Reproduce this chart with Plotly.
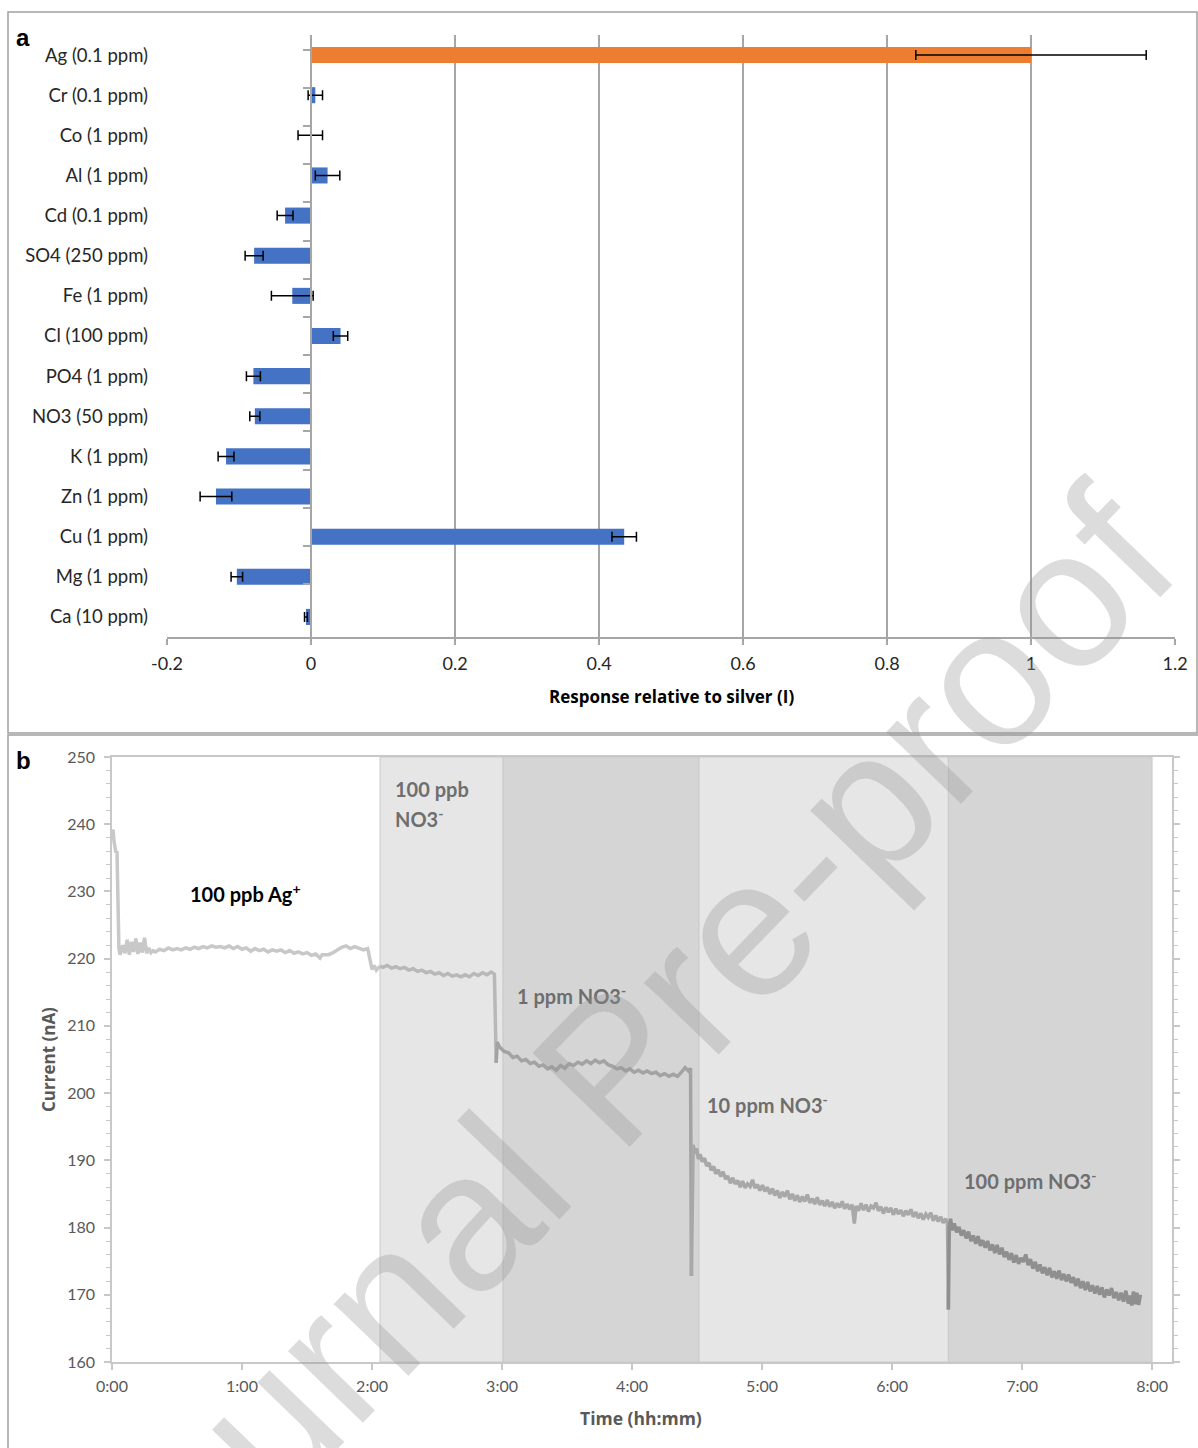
import plotly.graph_objects as go

# ---------------- Panel a data ----------------
categories = ["Ag (0.1 ppm)", "Cr (0.1 ppm)", "Co (1 ppm)", "Al (1 ppm)", "Cd (0.1 ppm)",
              "SO4 (250 ppm)", "Fe (1 ppm)", "Cl (100 ppm)", "PO4 (1 ppm)", "NO3 (50 ppm)",
              "K (1 ppm)", "Zn (1 ppm)", "Cu (1 ppm)", "Mg (1 ppm)", "Ca (10 ppm)"]
response = [1.0, 0.006, -0.001, 0.023, -0.036, -0.079, -0.026, 0.041, -0.080, -0.078,
            -0.118, -0.132, 0.435, -0.103, -0.007]
response_err = [0.16, 0.010, 0.017, 0.017, 0.011, 0.0125, 0.029, 0.010, 0.0097, 0.007,
                0.011, 0.022, 0.017, 0.008, 0.002]
x_ticks_a = [-0.2, 0, 0.2, 0.4, 0.6, 0.8, 1, 1.2]
x_ticktext_a = ["-0.2", "0", "0.2", "0.4", "0.6", "0.8", "1", "1.2"]

# ---------------- Panel b data (time in minutes, current in nA) ----------------
t_ag = [0, 0.5, 0.9, 1.4, 1.8, 2.3, 2.8, 3.2, 3.7, 5, 6, 7, 8, 9, 10, 11, 12, 13, 14, 15, 16, 17, 18,
        19, 20, 22, 24, 26, 28, 30, 32, 34, 36, 38, 40, 42, 44, 46, 48, 50, 52, 54, 56, 58, 60,
        62, 64, 66, 68, 70, 72, 74, 76, 78, 80, 82, 84, 86, 88, 90, 92, 94, 96, 97, 99, 100,
        102, 104, 106, 108, 110, 112, 114, 116, 118, 119, 120, 121, 122, 123.7]
i_ag = [238.5, 239.2, 237.5, 236.5, 235.8, 236.0, 228.0, 221.5, 220.6, 222.0, 220.8, 222.8,
        220.6, 222.5, 221.0, 223.0, 220.7, 222.4, 220.9, 223.1, 220.8, 221.6, 220.9, 221.2,
        221.0, 221.4, 221.2, 221.6, 221.3, 221.5, 221.3, 221.6, 221.4, 221.7, 221.5, 221.8,
        221.6, 221.9, 221.7, 221.8, 221.6, 221.9, 221.5, 221.8, 221.4, 221.6, 221.1, 221.5,
        221.2, 221.4, 221.0, 221.3, 221.1, 221.3, 220.9, 221.2, 220.8, 221.0, 220.7, 220.9,
        220.5, 220.7, 220.1, 220.6, 220.6, 220.6, 220.9, 221.3, 221.7, 221.9, 221.5, 221.8,
        221.6, 221.3, 221.5, 220.0, 218.4, 219.0, 218.3, 218.9]

t_100ppb = [123.7, 125, 127, 129, 131, 133, 135, 137, 139, 141, 143, 145, 147, 149, 151, 153,
            155, 157, 159, 161, 163, 165, 167, 169, 171, 173, 175, 176.5, 177.3]
i_100ppb = [218.9, 218.7, 219.0, 218.6, 218.8, 218.5, 218.7, 218.3, 218.5, 218.1, 218.3, 217.9,
            218.1, 217.7, 217.9, 217.5, 217.8, 217.4, 217.6, 217.3, 217.6, 217.3, 217.8, 217.5,
            217.9, 217.6, 218.0, 217.7, 204.5]

t_1ppm = [177.3, 177.8, 179, 181, 183, 185, 187, 189, 191, 193, 195, 197, 199, 201, 203, 205,
          207, 209, 211, 213, 215, 217, 219, 221, 223, 225, 227, 229, 231, 233, 235, 237, 239,
          241, 243, 245, 247, 249, 251, 253, 255, 257, 259, 261, 263, 264.5, 266, 267, 267.4]
i_1ppm = [204.5, 207.6, 206.8, 206.2, 206.0, 205.3, 205.5, 204.8, 205.0, 204.4, 204.6, 204.0,
          204.2, 203.6, 203.9, 203.4, 204.1, 203.7, 204.4, 204.1, 204.6, 204.3, 204.8, 204.4,
          204.9, 204.5, 204.8, 204.2, 204.0, 203.6, 203.8, 203.3, 203.6, 203.1, 203.4, 203.0,
          203.3, 202.9, 203.1, 202.6, 202.9, 202.5, 202.8, 202.5, 203.2, 203.8, 203.3, 203.7,
          172.8]

t_10ppm = [267.4, 267.8, 268.2, 269.0, 269.8, 270.6, 271.5, 272.3, 273.5, 274.4, 275.6, 276.5,
           277.7, 278.6, 279.8, 280.9, 282.0, 283.2, 284.1, 285.4, 286.5, 287.6, 288.8, 289.9,
           291.0, 292.2, 293.3, 294.5, 295.6, 296.7, 297.9, 299.0, 300.2, 301.3, 302.5, 303.6,
           304.8, 305.9, 307.1, 308.2, 309.4, 310.5, 311.7, 312.8, 314.0, 315.1, 316.3, 317.4,
           318.6, 319.7, 320.9, 322.0, 323.2, 324.3, 325.5, 326.6, 327.8, 328.9, 330.1, 331.2,
           332.4, 333.5, 334.7, 335.8, 337.0, 338.1, 339.3, 340.4, 341.6, 342.6, 343.4, 344.5,
           345.7, 346.8, 348.0, 349.1, 350.3, 351.4, 352.6, 353.7, 354.9, 356.0, 357.2, 358.3,
           359.5, 360.6, 361.8, 362.9, 364.1, 365.2, 366.4, 367.5, 368.7, 369.8, 371.0, 372.1,
           373.3, 374.4, 375.6, 376.7, 377.9, 379.0, 380.2, 381.3, 382.5, 383.6, 384.8, 385.6,
           386.0]
i_10ppm = [172.8, 190.8, 192.3, 191.0, 191.8, 190.2, 190.9, 189.8, 190.3, 189.2, 189.6, 188.5,
           189.1, 188.0, 188.6, 187.6, 188.3, 187.2, 187.7, 186.6, 187.4, 186.5, 187.0, 186.0,
           186.9, 185.9, 186.5, 186.1, 187.1, 185.9, 186.4, 185.5, 186.3, 185.4, 186.0, 185.0,
           185.8, 184.8, 185.5, 184.4, 185.3, 184.6, 185.5, 184.2, 185.0, 184.0, 184.8, 183.8,
           184.6, 183.9, 184.9, 183.7, 184.3, 183.5, 184.5, 183.4, 184.0, 183.2, 184.1, 183.1,
           183.8, 182.9, 183.6, 183.0, 183.9, 182.8, 183.5, 182.7, 183.4, 180.6, 183.2, 182.5,
           183.6, 182.6, 183.4, 182.4, 183.2, 182.9, 183.7, 182.5, 183.1, 182.1, 183.0, 182.3,
           182.9, 181.9, 182.8, 182.0, 182.6, 181.7, 182.5, 181.9, 182.7, 181.6, 182.3, 181.4,
           182.1, 181.2, 182.0, 181.5, 182.2, 181.0, 181.8, 180.9, 181.6, 180.7, 181.3, 180.6,
           167.8]

t_100ppm = [386.0, 386.4, 387.0, 387.8, 388.7, 389.8, 390.9, 392.0, 393.1, 394.2, 395.3, 396.4,
            397.5, 398.6, 399.7, 400.8, 401.9, 403.0, 404.1, 405.2, 406.3, 407.4, 408.5, 409.6,
            410.7, 411.8, 412.9, 414.0, 415.1, 416.2, 417.3, 418.4, 419.5, 420.6, 421.7, 422.8,
            423.9, 425.0, 426.1, 427.2, 428.3, 429.4, 430.5, 431.6, 432.7, 433.8, 434.9, 436.0,
            437.1, 438.2, 439.3, 440.4, 441.5, 442.6, 443.7, 444.8, 445.9, 447.0, 448.1, 449.2,
            450.3, 451.4, 452.5, 453.6, 454.7, 455.8, 456.9, 458.0, 459.1, 460.2, 461.3, 462.4,
            463.5, 464.6, 465.7, 466.8, 467.9, 469.0, 469.8, 470.6, 471.4, 472.2, 473.0, 473.8,
            474.6]
i_100ppm = [167.8, 180.0, 181.3, 179.6, 180.6, 179.3, 180.1, 178.8, 179.6, 178.4, 179.4, 178.0,
            178.8, 177.6, 178.7, 177.3, 178.1, 177.0, 178.0, 176.6, 177.5, 176.2, 177.4, 176.0,
            177.0, 175.6, 176.4, 175.2, 176.2, 174.8, 175.9, 174.6, 175.5, 174.9, 176.0, 174.4,
            175.3, 173.9, 174.9, 173.5, 174.5, 173.2, 174.1, 172.9, 174.0, 172.6, 173.5, 172.4,
            173.6, 172.2, 173.1, 172.0, 173.0, 171.8, 172.6, 171.3, 172.4, 171.0, 172.0, 170.7,
            171.9, 170.5, 171.4, 170.2, 171.3, 170.0, 171.1, 169.6, 170.8, 169.9, 171.0, 169.5,
            170.4, 169.2, 170.3, 169.0, 170.6, 168.7, 169.9, 168.4, 170.5, 168.6, 170.3, 168.5,
            170.0]

region_start = [123.7, 180.5, 270.9, 386.0]
region_end = [180.5, 270.9, 386.0, 480.0]
region_fill = ["#E6E6E6", "#D6D5D6", "#E6E6E6", "#D6D5D6"]

x_ticks_b = [0, 60, 120, 180, 240, 300, 360, 420, 480]
x_ticktext_b = ["0:00", "1:00", "2:00", "3:00", "4:00", "5:00", "6:00", "7:00", "8:00"]

W, H = 1198, 1448
def px(x):
    return x / W
def py(y):
    return 1 - y / H

FONT = "Lato"
TFONT = "Open Sans"
fig = go.Figure()

# ---------------- Panel a ----------------
bar_colors = ["#ED7D31"] + ["#4472C4"] * (len(categories) - 1)
fig.add_trace(go.Bar(
    x=response, y=categories, orientation="h", width=0.4,
    marker=dict(color=bar_colors, line=dict(width=0)),
    error_x=dict(type="data", array=response_err, visible=True, color="black",
                 thickness=1.5, width=5),
    xaxis="x", yaxis="y", showlegend=False))
fig.add_trace(go.Scatter(x=[0] * len(categories), y=categories, mode="markers",
                         marker=dict(opacity=0), xaxis="x", yaxis="y3",
                         showlegend=False, hoverinfo="skip"))

# ---------------- Panel b ----------------
series_b = [(t_ag, i_ag, "#C8C8C8"), (t_100ppb, i_100ppb, "#B8B8B8"),
            (t_1ppm, i_1ppm, "#A3A3A3"), (t_10ppm, i_10ppm, "#A8A8A8"),
            (t_100ppm, i_100ppm, "#8F8F8F")]
for tt, ii, col in series_b:
    fig.add_trace(go.Scatter(x=tt, y=ii, mode="lines", line=dict(color=col, width=3.5),
                             xaxis="x2", yaxis="y2", showlegend=False))

shapes = []
for s, e, c in zip(region_start, region_end, region_fill):
    shapes.append(dict(type="rect", xref="x2", yref="y2", x0=s, x1=e, y0=160, y1=250,
                       fillcolor=c, line=dict(color="#CACACA", width=1), layer="below"))
shapes.append(dict(type="rect", xref="paper", yref="paper", x0=px(8), x1=px(1197),
                   y0=py(733), y1=py(12), line=dict(color="#A0A0A0", width=1.5)))
shapes.append(dict(type="rect", xref="paper", yref="paper", x0=px(8), x1=px(1210),
                   y0=py(1460), y1=py(735), line=dict(color="#A0A0A0", width=1.5)))

ann_gray = "#6E6E6E"
def ann(text, x, y, size, color, family=FONT, xanchor="center", angle=0):
    return dict(text=text, x=px(x), y=py(y), xref="paper", yref="paper", showarrow=False,
                xanchor=xanchor, yanchor="middle", textangle=angle,
                font=dict(family=family, size=size, color=color))

annotations = [
    ann("<b>a</b>", 14, 38, 24, "black", family="Liberation Sans", xanchor="left"),
    ann("<b>b</b>", 14, 760, 24, "black", family="Liberation Sans", xanchor="left"),
    ann("<b>Response relative to silver (I)</b>", 671, 696, 17, "black", family=TFONT),
    ann("<b>Current (nA)</b>", 48, 1060, 17, "#595959", family=TFONT, angle=-90),
    ann("<b>Time (hh:mm)</b>", 641, 1418, 17.5, "#595959", family=TFONT),
    ann("<b>100 ppb Ag<sup>+</sup></b>", 188, 893, 20, "black", xanchor="left"),
    ann("<b>100 ppb</b>", 393, 789, 20, ann_gray, xanchor="left"),
    ann("<b>NO3<sup>-</sup></b>", 393, 818, 20, ann_gray, xanchor="left"),
    ann("<b>1 ppm NO3<sup>-</sup></b>", 515, 995, 20, ann_gray, xanchor="left"),
    ann("<b>10 ppm NO3<sup>-</sup></b>", 705, 1104, 20, ann_gray, xanchor="left"),
    ann("<b>100 ppm NO3<sup>-</sup></b>", 962, 1180, 20, ann_gray, xanchor="left"),
    ann("Journal Pre-proof", 611, 1068, 196, "rgba(150,150,150,0.33)",
        family="Liberation Sans", angle=-46),
]

fig.update_layout(
    width=W, height=H, margin=dict(l=0, r=0, t=0, b=0, autoexpand=False),
    paper_bgcolor="white", plot_bgcolor="white",
    xaxis=dict(domain=[px(167), px(1175)], anchor="y", range=[-0.2, 1.2],
               tickvals=x_ticks_a, ticktext=x_ticktext_a, showgrid=True,
               gridcolor="#A6A6A6", gridwidth=1.5, zeroline=False,
               showline=True, linecolor="#A6A6A6", linewidth=1.5,
               ticks="outside", ticklen=6, tickcolor="#A6A6A6", tickwidth=1.5,
               ticklabelstandoff=4,
               tickfont=dict(family=FONT, size=18, color="#262626")),
    yaxis=dict(domain=[py(637), py(35)], anchor="x", type="category",
               categoryorder="array", categoryarray=categories, autorange="reversed",
               showgrid=False, zeroline=False, showline=False, ticks="",
               ticklabelstandoff=18,
               tickfont=dict(family=FONT, size=18.5, color="#262626")),
    yaxis3=dict(overlaying="y", anchor="free", position=px(311), type="category",
                categoryorder="array", categoryarray=categories, autorange="reversed",
                showgrid=False, zeroline=False, showline=True, linecolor="#A6A6A6",
                linewidth=1.5, ticks="outside", ticklen=7, tickcolor="#A6A6A6",
                tickwidth=1.5, tickson="boundaries", showticklabels=False),
    xaxis2=dict(domain=[px(112), px(1172)], anchor="y2", range=[0, 489.2],
                tickvals=x_ticks_b, ticktext=x_ticktext_b, showgrid=False, zeroline=False,
                showline=True, linecolor="#C8C8C8", linewidth=1.5, mirror=True,
                ticks="outside", ticklen=6, tickcolor="#C8C8C8", tickwidth=1.5,
                ticklabelstandoff=3,
                tickfont=dict(family=FONT, size=16, color="#595959")),
    yaxis2=dict(domain=[py(1362), py(757)], anchor="x2", range=[160, 250], dtick=10,
                showgrid=False, zeroline=False, showline=True, linecolor="#C8C8C8",
                linewidth=1.5, mirror="allticks", ticks="outside", ticklen=6,
                tickcolor="#C8C8C8", tickwidth=1.5, ticklabelstandoff=6,
                minor=dict(dtick=2, ticks="outside", ticklen=4, tickcolor="#C8C8C8",
                           tickwidth=1),
                tickfont=dict(family=FONT, size=16, color="#595959")),
    shapes=shapes, annotations=annotations,
)

fig.write_html("out.html", config={"displayModeBar": False},
               post_script="document.body.style.margin='0px';document.body.style.overflow='hidden';")
